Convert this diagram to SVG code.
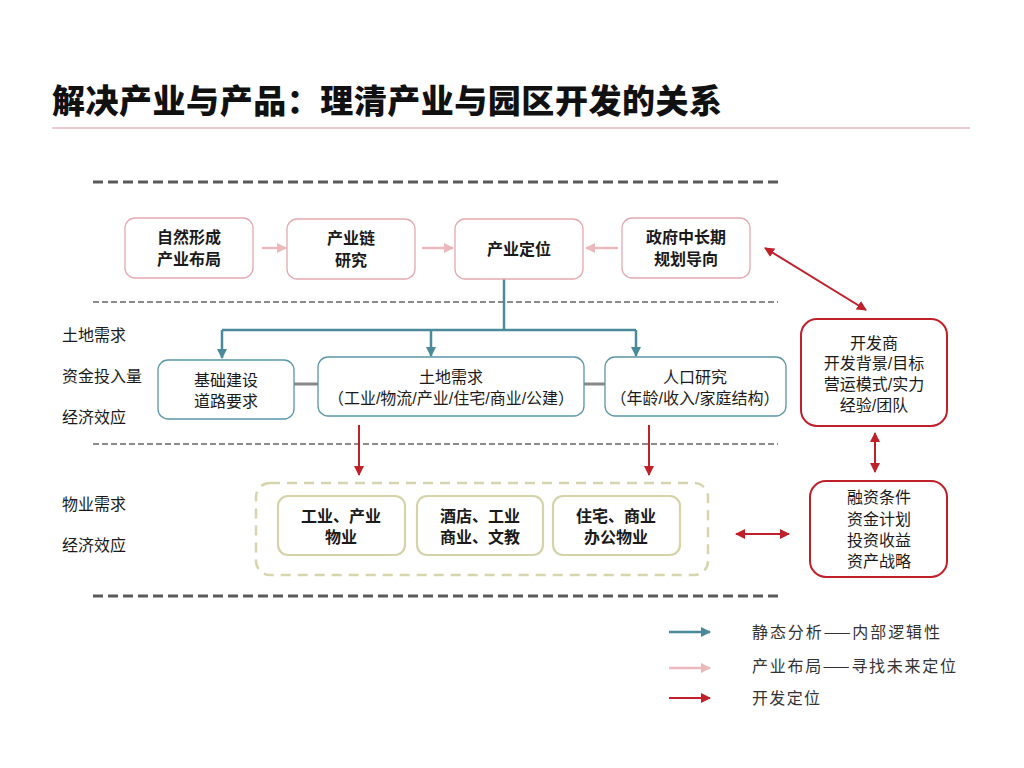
<svg xmlns="http://www.w3.org/2000/svg" width="1024" height="768" viewBox="0 0 1024 768">
<defs>
<style>
text{font-family:"Liberation Sans","Noto Sans CJK SC",sans-serif;fill:#1a1a1a;text-anchor:middle}
.title{font-family:"Noto Sans CJK SC",sans-serif;font-size:33px;font-weight:900;text-anchor:start;fill:#111}
.b{font-size:16px;font-weight:bold}
.n{font-size:16px}
.lab{font-size:16px;text-anchor:start}
.leg{font-family:"Noto Sans CJK SC",sans-serif;font-size:16px;text-anchor:start;fill:#333}
.pk{fill:#fff;stroke:#e3a9b0;stroke-width:1.3}
.tl{fill:#fff;stroke:#5b96a6;stroke-width:1.3}
.ol{fill:#fff;stroke:#d4d3aa;stroke-width:2.2}
.rd{fill:#fff;stroke:#c0202a;stroke-width:2}
.dthick{stroke:#5a5a5a;stroke-width:3;stroke-dasharray:10 5;fill:none}
.dthin{stroke:#666;stroke-width:1.5;stroke-dasharray:6 3;fill:none}
.ca{stroke:#4a8a9a;stroke-width:2.5;fill:none}
.cp{stroke:#ebb8bd;stroke-width:2.5;fill:none}
.cr{stroke:#c0202a;stroke-width:2;fill:none}
</style>
<marker id="mt" viewBox="0 0 10 10" refX="9" refY="5" markerWidth="4" markerHeight="4" orient="auto-start-reverse"><path d="M0,0L10,5L0,10z" fill="#4a8a9a"/></marker>
<marker id="mp" viewBox="0 0 10 10" refX="9" refY="5" markerWidth="4" markerHeight="4" orient="auto-start-reverse"><path d="M0,0L10,5L0,10z" fill="#ebb8bd"/></marker>
<marker id="mr" viewBox="0 0 10 10" refX="9" refY="5" markerWidth="5" markerHeight="5" orient="auto-start-reverse"><path d="M0,0L10,5L0,10z" fill="#c0202a"/></marker>
</defs>
<rect width="1024" height="768" fill="#fff"/>
<text class="title" x="52" y="113" textLength="670" lengthAdjust="spacing">解决产业与产品：理清产业与园区开发的关系</text>
<line x1="52" y1="128" x2="970" y2="128" stroke="#d49aa0" stroke-width="1.2"/>
<g id="dividers">
<line class="dthick" x1="93" y1="182" x2="778" y2="182"/>
<line class="dthin" x1="93" y1="302" x2="778" y2="302"/>
<line class="dthin" x1="93" y1="444" x2="778" y2="444"/>
<line class="dthick" x1="93" y1="596" x2="778" y2="596"/>
</g>
<g id="side-labels">
<text class="lab" x="62" y="341">土地需求</text>
<text class="lab" x="62" y="382">资金投入量</text>
<text class="lab" x="62" y="423">经济效应</text>
<text class="lab" x="62" y="510">物业需求</text>
<text class="lab" x="62" y="551">经济效应</text>
</g>
<g id="connectors">
<line class="cp" x1="262" y1="248" x2="286" y2="248" marker-end="url(#mp)"/>
<line class="cp" x1="422" y1="248" x2="453" y2="248" marker-end="url(#mp)"/>
<line class="cp" x1="618" y1="248" x2="586" y2="248" marker-end="url(#mp)"/>
<path class="ca" d="M504,279V330"/>
<path class="ca" d="M222,330H636"/>
<line class="ca" x1="222" y1="330" x2="222" y2="358" marker-end="url(#mt)"/>
<line class="ca" x1="431" y1="330" x2="431" y2="356" marker-end="url(#mt)"/>
<line class="ca" x1="636" y1="330" x2="636" y2="356" marker-end="url(#mt)"/>
<line x1="294" y1="384" x2="318" y2="384" stroke="#888" stroke-width="3"/>
<line x1="584" y1="384" x2="605" y2="384" stroke="#888" stroke-width="3"/>
<line class="cr" x1="359" y1="425" x2="359" y2="475" marker-end="url(#mr)"/>
<line class="cr" x1="649" y1="425" x2="649" y2="475" marker-end="url(#mr)"/>
<line class="cr" x1="765" y1="248" x2="866" y2="310" marker-start="url(#mr)" marker-end="url(#mr)"/>
<line class="cr" x1="875" y1="433" x2="875" y2="472" marker-start="url(#mr)" marker-end="url(#mr)"/>
<line class="cr" x1="736" y1="534" x2="789" y2="534" marker-start="url(#mr)" marker-end="url(#mr)"/>
</g>
<g id="n-natural"><rect class="pk" x="125" y="218" width="128" height="60" rx="10"/><text class="b" x="189" y="243">自然形成</text><text class="b" x="189" y="265">产业布局</text></g>
<g id="n-chain"><rect class="pk" x="287" y="219" width="128" height="60" rx="10"/><text class="b" x="351" y="244">产业链</text><text class="b" x="351" y="266">研究</text></g>
<g id="n-position"><rect class="pk" x="455" y="219" width="128" height="60" rx="10"/><text class="b" x="519" y="255">产业定位</text></g>
<g id="n-gov"><rect class="pk" x="622" y="218" width="128" height="60" rx="10"/><text class="b" x="686" y="243">政府中长期</text><text class="b" x="686" y="265">规划导向</text></g>
<g id="n-infra"><rect class="tl" x="158" y="360" width="136" height="59" rx="10"/><text class="n" x="226" y="386">基础建设</text><text class="n" x="226" y="407">道路要求</text></g>
<g id="n-land"><rect class="tl" x="318" y="357" width="266" height="59" rx="10"/><text class="n" x="451" y="383">土地需求</text><text class="n" x="451" y="404">（工业/物流/产业/住宅/商业/公建）</text></g>
<g id="n-pop"><rect class="tl" x="605" y="357" width="181" height="59" rx="10"/><text class="n" x="695" y="383">人口研究</text><text class="n" x="695" y="404">（年龄/收入/家庭结构）</text></g>
<g id="n-property-group"><rect x="256" y="483" width="452" height="92" rx="14" fill="none" stroke="#d6d5ad" stroke-width="2.5" stroke-dasharray="10 7"/></g>
<g id="n-ind"><rect class="ol" x="278" y="496" width="127" height="59" rx="10"/><text class="b" x="341" y="522">工业、产业</text><text class="b" x="341" y="543">物业</text></g>
<g id="n-hotel"><rect class="ol" x="417" y="496" width="126" height="59" rx="10"/><text class="b" x="480" y="522">酒店、工业</text><text class="b" x="480" y="543">商业、文教</text></g>
<g id="n-res"><rect class="ol" x="553" y="496" width="127" height="59" rx="10"/><text class="b" x="616" y="522">住宅、商业</text><text class="b" x="616" y="543">办公物业</text></g>
<g id="n-dev"><rect class="rd" x="801" y="319" width="146" height="107" rx="16"/><text class="n" x="874" y="349">开发商</text><text class="n" x="874" y="369">开发背景/目标</text><text class="n" x="874" y="390">营运模式/实力</text><text class="n" x="874" y="411">经验/团队</text></g>
<g id="n-fin"><rect class="rd" x="810" y="481" width="137" height="96" rx="16"/><text class="n" x="879" y="503">融资条件</text><text class="n" x="879" y="525">资金计划</text><text class="n" x="879" y="546">投资收益</text><text class="n" x="879" y="567">资产战略</text></g>
<g id="legend">
<line class="ca" x1="669" y1="632" x2="710" y2="632" marker-end="url(#mt)"/>
<line class="cp" x1="669" y1="668" x2="710" y2="668" marker-end="url(#mp)"/>
<line class="cr" x1="669" y1="698" x2="710" y2="698" marker-end="url(#mr)"/>
<text class="leg" x="752" y="638" textLength="188" lengthAdjust="spacing">静态分析——内部逻辑性</text>
<text class="leg" x="752" y="672" textLength="204" lengthAdjust="spacing">产业布局——寻找未来定位</text>
<text class="leg" x="752" y="704" textLength="68" lengthAdjust="spacing">开发定位</text>
</g>
</svg>
